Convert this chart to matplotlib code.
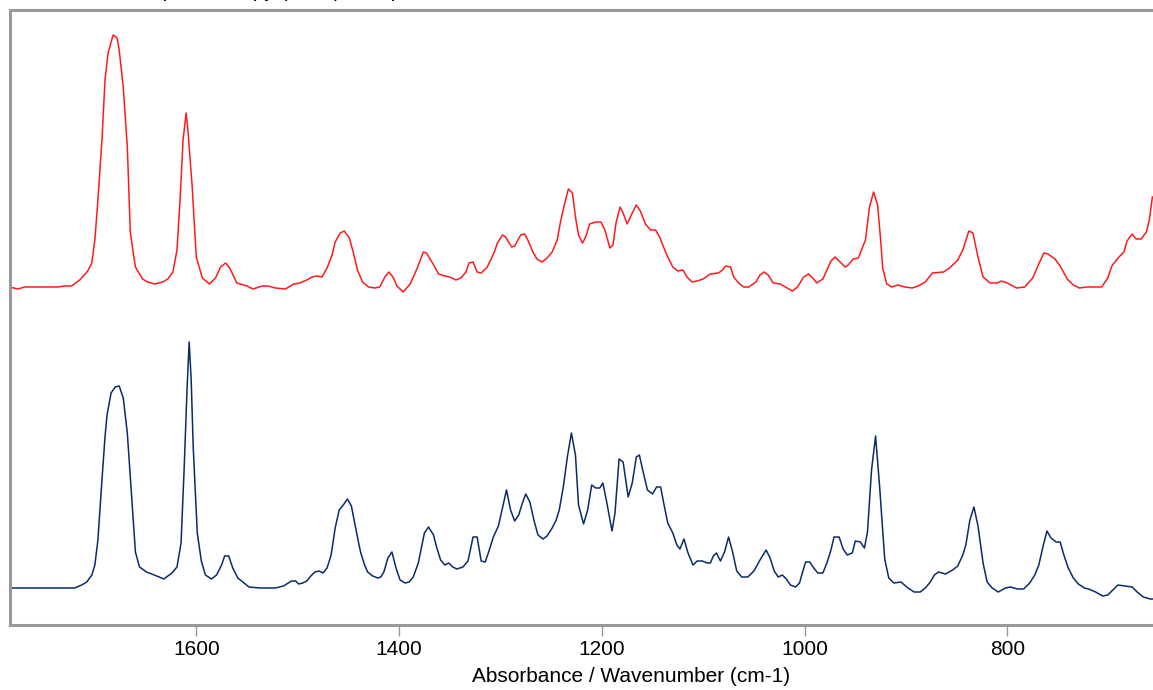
import matplotlib
matplotlib.use("Agg")
import matplotlib.pyplot as plt

# Top spectrum (red): wavenumber (cm-1) and absorbance (arbitrary units)
red_wn = [1784, 1776, 1769, 1736, 1731, 1723, 1715, 1707, 1703, 1700, 1697, 1693, 1690, 1687, 1682,
          1678, 1676, 1672, 1668, 1665, 1660, 1653, 1648, 1641, 1633, 1628, 1623, 1619, 1616, 1613,
          1610, 1608, 1604, 1600, 1594, 1587, 1581, 1576, 1571, 1567, 1560, 1550, 1544, 1535, 1529,
          1522, 1512, 1504, 1498, 1491, 1486, 1481, 1476, 1471, 1466, 1463, 1458, 1454, 1449, 1445,
          1441, 1436, 1430, 1424, 1419, 1414, 1410, 1406, 1402, 1396, 1389, 1382, 1376, 1373, 1367,
          1361, 1355, 1350, 1344, 1339, 1334, 1331, 1327, 1323, 1319, 1313, 1306, 1303, 1298, 1295,
          1289, 1286, 1280, 1276, 1273, 1268, 1264, 1259, 1254, 1249, 1244, 1241, 1237, 1233, 1229,
          1226, 1223, 1219, 1216, 1212, 1206, 1201, 1197, 1192, 1189, 1186, 1182, 1179, 1175, 1170,
          1166, 1162, 1157, 1152, 1147, 1143, 1136, 1130, 1125, 1120, 1116, 1111, 1106, 1100, 1093,
          1085, 1081, 1078, 1073, 1070, 1065, 1060, 1055, 1048, 1044, 1040, 1036, 1031, 1024, 1019,
          1012, 1007, 1001, 996, 992, 988, 982, 978, 974, 970, 965, 960, 957, 952, 947,
          940, 936, 932, 928, 925, 923, 919, 914, 908, 901, 894, 888, 881, 874, 863,
          857, 849, 844, 838, 834, 829, 824, 817, 810, 806, 800, 791, 783, 775, 770,
          764, 760, 753, 748, 741, 735, 729, 721, 714, 707, 701, 697, 690, 685, 682,
          677, 673, 668, 663, 660, 657]
red_abs = [1, -1, 1, 1, 2, 2, 8, 17, 25, 48, 88, 148, 208, 235, 253,
           250, 238, 201, 141, 55, 21, 9, 6, 4, 6, 9, 16, 38, 88, 148,
           175, 155, 101, 31, 10, 4, 10, 21, 25, 20, 5, 2, -1, 2, 2,
           0, -1, 4, 5, 8, 11, 12, 11, 20, 33, 46, 55, 57, 50, 35,
           18, 6, 1, 0, 1, 11, 16, 11, 2, -4, 4, 20, 36, 35, 25,
           14, 12, 11, 8, 10, 16, 25, 26, 16, 15, 21, 36, 45, 53, 51,
           41, 42, 53, 54, 48, 36, 29, 26, 30, 36, 48, 65, 83, 99, 95,
           71, 53, 45, 51, 64, 66, 66, 58, 40, 43, 65, 81, 75, 64, 75,
           83, 77, 64, 58, 58, 51, 33, 21, 17, 18, 11, 6, 7, 9, 14,
           15, 18, 22, 21, 11, 5, 1, 1, 6, 13, 16, 13, 5, 4, 1,
           -3, 1, 11, 14, 10, 5, 9, 18, 27, 31, 26, 21, 23, 29, 30,
           48, 81, 96, 83, 48, 20, 4, 1, 3, 1, 0, 2, 6, 15, 16,
           20, 28, 38, 57, 55, 31, 11, 5, 5, 7, 5, 0, 1, 10, 22,
           35, 34, 29, 22, 9, 3, 0, 1, 1, 1, 10, 22, 31, 36, 47,
           54, 49, 49, 56, 68, 91]

# Bottom spectrum (navy)
blue_wn = [1784, 1720, 1713, 1708, 1703, 1700, 1697, 1693, 1690, 1688, 1684, 1680, 1676, 1672, 1668,
           1664, 1660, 1656, 1649, 1639, 1632, 1624, 1619, 1615, 1612, 1609, 1607, 1605, 1603, 1599,
           1595, 1591, 1585, 1580, 1575, 1572, 1568, 1564, 1559, 1548, 1537, 1522, 1514, 1506, 1502,
           1499, 1495, 1491, 1487, 1483, 1479, 1475, 1471, 1467, 1463, 1459, 1455, 1451, 1447, 1442,
           1438, 1434, 1431, 1426, 1421, 1418, 1415, 1411, 1407, 1403, 1399, 1394, 1390, 1386, 1381,
           1378, 1375, 1371, 1366, 1363, 1359, 1355, 1351, 1347, 1343, 1337, 1332, 1327, 1323, 1319,
           1315, 1311, 1307, 1302, 1298, 1294, 1290, 1286, 1282, 1278, 1275, 1271, 1267, 1263, 1258,
           1254, 1249, 1245, 1242, 1238, 1234, 1230, 1226, 1223, 1218, 1214, 1210, 1206, 1202, 1199,
           1195, 1190, 1187, 1183, 1179, 1174, 1170, 1166, 1163, 1159, 1155, 1150, 1146, 1142, 1139,
           1135, 1130, 1126, 1123, 1119, 1115, 1110, 1106, 1101, 1096, 1093, 1090, 1087, 1083, 1079,
           1075, 1071, 1067, 1062, 1056, 1050, 1044, 1038, 1034, 1030, 1026, 1022, 1018, 1014, 1009,
           1005, 1002, 999, 995, 991, 987, 982, 978, 974, 971, 966, 962, 958, 953, 950,
           945, 941, 938, 934, 930, 926, 921, 917, 912, 905, 898, 892, 886, 881, 876,
           872, 868, 861, 854, 849, 844, 841, 837, 833, 829, 824, 820, 815, 809, 802,
           797, 790, 784, 778, 773, 769, 765, 761, 757, 752, 748, 744, 740, 735, 730,
           724, 720, 713, 706, 701, 697, 691, 684, 677, 672, 666, 659, 656]
blue_abs = [0, 0, 3, 6, 13, 23, 48, 108, 151, 173, 195, 201, 202, 190, 155,
            95, 36, 21, 16, 12, 9, 15, 21, 45, 118, 201, 246, 208, 141, 55,
            27, 13, 9, 13, 23, 32, 32, 20, 10, 1, 0, 0, 2, 7, 7,
            4, 5, 7, 12, 16, 17, 15, 20, 33, 60, 78, 83, 89, 82, 56,
            36, 23, 16, 12, 10, 11, 16, 30, 36, 20, 8, 5, 6, 11, 25,
            40, 55, 61, 53, 41, 28, 23, 25, 21, 19, 21, 27, 51, 51, 27,
            26, 38, 51, 62, 80, 98, 78, 67, 73, 86, 94, 86, 68, 53, 49,
            52, 60, 68, 78, 101, 131, 155, 133, 83, 64, 78, 103, 100, 100, 105,
            85, 57, 75, 129, 126, 91, 105, 131, 133, 115, 98, 94, 101, 101, 85,
            65, 55, 43, 39, 49, 35, 23, 27, 27, 25, 25, 32, 35, 27, 36,
            51, 36, 17, 11, 11, 17, 28, 38, 30, 17, 11, 13, 9, 3, 1,
            5, 16, 26, 26, 20, 15, 15, 25, 38, 51, 51, 39, 33, 35, 47,
            46, 40, 56, 118, 152, 101, 29, 10, 5, 6, 0, -4, -4, 0, 6,
            13, 16, 14, 18, 22, 33, 43, 68, 81, 62, 25, 6, 0, -4, 0,
            1, -1, -1, 5, 13, 23, 41, 57, 50, 46, 46, 32, 20, 10, 4,
            0, -1, -4, -8, -7, -3, 3, 2, 1, -4, -9, -11, -11]

xticks = [1600, 1400, 1200, 1000, 800]
xlabel = "Absorbance / Wavenumber (cm-1)"
title = "Infrared Spectroscopy (FTIR) Comparison"

W, H = 1153, 690
fig = plt.figure(figsize=(W / 100, H / 100), dpi=100)
ax = fig.add_axes([10 / W, (H - 625) / H, (W - 10) / W, 615 / H])

red_offset = 300
ax.plot(red_wn, [v + red_offset for v in red_abs], color="#ff1a1a", lw=1.1)
ax.plot(blue_wn, blue_abs, color="#0b2a6b", lw=1.1)

ax.set_xlim(1783.7, 656.4)
ax.set_ylim(-37, 578)
ax.set_yticks([])
ax.set_xticks(xticks)
ax.set_xticklabels([str(t) for t in xticks], fontsize=15, family="Liberation Sans")
ax.tick_params(axis="x", direction="out", length=8, width=1, color="#999999", pad=3)
for s in ["left", "top", "bottom"]:
    ax.spines[s].set_color("#999999")
    ax.spines[s].set_linewidth(2.2)
ax.spines["right"].set_visible(False)
ax.set_xlabel(xlabel, fontsize=15, family="Liberation Sans", labelpad=6)
ax.xaxis.set_label_coords((631 - 10) / (W - 10), -0.068)

fig.text(265 / W, 1 + 3.0 / H, title, ha="center", va="baseline", fontsize=15,
         family="Liberation Sans")

fig.savefig("out.png", dpi=100)
